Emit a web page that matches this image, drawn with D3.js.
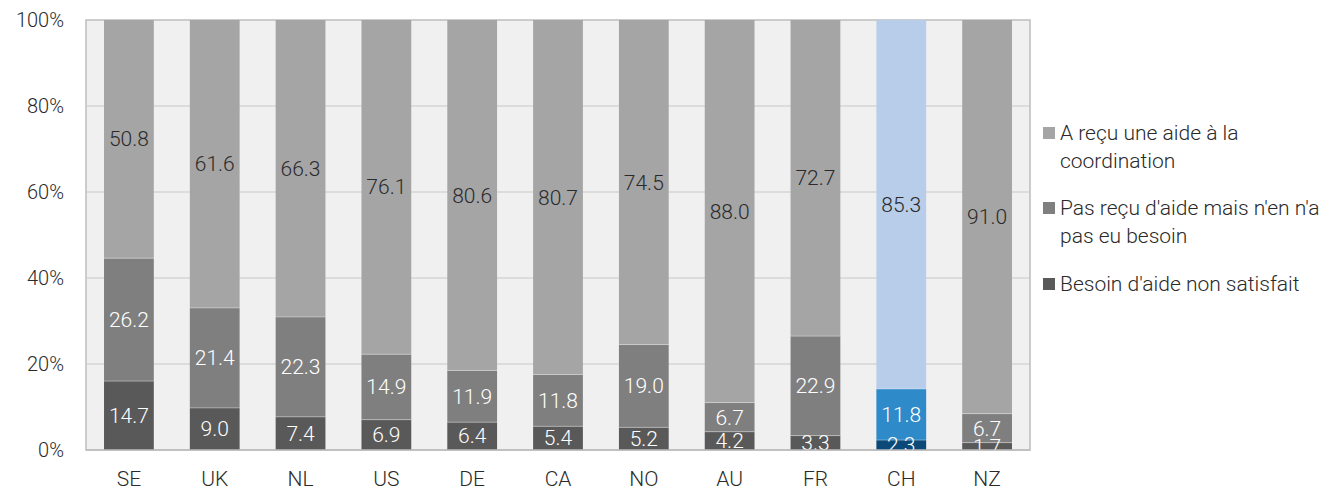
<!doctype html>
<html lang="fr">
<head>
<meta charset="utf-8">
<style>
  body { margin: 0; background: #fff; }
  text { font-family: Roboto, "Open Sans", sans-serif; font-weight: 300; }
</style>
</head>
<body>
<script src="https://d3js.org/d3.v7.min.js"></script>
<div id="chart"></div>
<script>
// data
var countries = ["SE", "UK", "NL", "US", "DE", "CA", "NO", "AU", "FR", "CH", "NZ"];
var besoinNonSatisfait = [14.7, 9.0, 7.4, 6.9, 6.4, 5.4, 5.2, 4.2, 3.3, 2.3, 1.7];
var pasBesoin = [26.2, 21.4, 22.3, 14.9, 11.9, 11.8, 19.0, 6.7, 22.9, 11.8, 6.7];
var aideRecue = [50.8, 61.6, 66.3, 76.1, 80.6, 80.7, 74.5, 88.0, 72.7, 85.3, 91.0];
var seriesNames = ["Besoin d'aide non satisfait", "Pas reçu d'aide mais n'en n'a pas eu besoin", "A reçu une aide à la coordination"];
var yTicks = [0, 0.2, 0.4, 0.6, 0.8, 1];
var highlight = "CH";

var greys = ["#595959", "#7f7f7f", "#a5a5a6"];
var blues = ["#0b4a78", "#2e8ac8", "#b7cde9"];
var labelColors = ["#fff", "#fff", "#2a2a2a"];

var width = 1331, height = 490;
var margin = {top: 20, right: 301, bottom: 40, left: 86};
var w = width - margin.left - margin.right,
    h = height - margin.top - margin.bottom;

var svg = d3.select("#chart").append("svg")
    .attr("width", width).attr("height", height);
var g = svg.append("g").attr("transform", "translate(" + margin.left + "," + margin.top + ")");

var rows = countries.map(function(c, i) {
  return {country: c, v0: besoinNonSatisfait[i], v1: pasBesoin[i], v2: aideRecue[i]};
});
var stack = d3.stack().keys(["v0", "v1", "v2"]).offset(d3.stackOffsetExpand);
var layers = stack(rows);

var x = d3.scaleBand().domain(countries).range([0, w]).paddingInner(0.42).paddingOuter(0.21);
var y = d3.scaleLinear().domain([0, 1]).range([h, 0]);

// plot background
g.append("rect").attr("width", w).attr("height", h)
  .attr("fill", "#f0f0f0").attr("stroke", "#bdbdbd").attr("stroke-width", 1.5);

// gridlines
g.append("g").selectAll("line").data(yTicks.slice(1, -1)).enter().append("line")
  .attr("x1", 0).attr("x2", w)
  .attr("y1", function(d) { return y(d); }).attr("y2", function(d) { return y(d); })
  .attr("stroke", "#c8c8c8").attr("stroke-width", 1);

// bars
layers.forEach(function(layer, k) {
  var lg = g.append("g");
  lg.selectAll("rect").data(layer).enter().append("rect")
    .attr("x", function(d) { return x(d.data.country); })
    .attr("y", function(d) { return y(d[1]); })
    .attr("width", x.bandwidth())
    .attr("height", function(d) { return y(d[0]) - y(d[1]); })
    .attr("fill", function(d) { return d.data.country == highlight ? blues[k] : greys[k]; });
  lg.selectAll("line").data(layer.filter(function() { return k > 0; })).enter().append("line")
    .attr("x1", function(d) { return x(d.data.country); })
    .attr("x2", function(d) { return x(d.data.country) + x.bandwidth(); })
    .attr("y1", function(d) { return y(d[0]); }).attr("y2", function(d) { return y(d[0]); })
    .attr("stroke", "#fff").attr("stroke-opacity", 0.35).attr("stroke-width", 1);
});

// value labels
layers.forEach(function(layer, k) {
  g.append("g").selectAll("text").data(layer).enter().append("text")
    .attr("x", function(d) { return x(d.data.country) + x.bandwidth() / 2; })
    .attr("y", function(d) { return (y(d[0]) + y(d[1])) / 2; })
    .attr("dy", "0.35em")
    .attr("text-anchor", "middle")
    .attr("font-size", 21)
    .attr("fill", labelColors[k])
    .text(function(d) { return d.data[layer.key].toFixed(1); });
});

// bottom axis line drawn over bars
g.append("line").attr("x1", 0).attr("x2", w).attr("y1", h).attr("y2", h)
  .attr("stroke", "#bdbdbd").attr("stroke-width", 1.5);
// white area below plot hides label overflow
svg.append("rect").attr("x", margin.left).attr("y", margin.top + h + 1)
  .attr("width", w).attr("height", 10).attr("fill", "#fff");

// axes
var yAxis = g.append("g")
  .call(d3.axisLeft(y).tickValues(yTicks).tickFormat(d3.format(".0%")).tickSize(0).tickPadding(22));
yAxis.select(".domain").remove();
yAxis.selectAll("text").attr("font-size", 20).attr("fill", "#2a2a2a").attr("font-family", "Roboto").attr("font-weight", 300);

var xAxis = g.append("g").attr("transform", "translate(0," + h + ")")
  .call(d3.axisBottom(x).tickSize(0).tickPadding(21));
xAxis.select(".domain").remove();
xAxis.selectAll("text").attr("font-size", 21).attr("fill", "#2a2a2a").attr("font-family", "Roboto").attr("font-weight", 300);

// legend (top to bottom: reverse order)
var legendItems = [
  {lines: ["A reçu une aide à la", "coordination"], color: greys[2], y: 133},
  {lines: ["Pas reçu d'aide mais n'en n'a", "pas eu besoin"], color: greys[1], y: 208},
  {lines: ["Besoin d'aide non satisfait"], color: greys[0], y: 284}
];
var legend = svg.append("g").attr("transform", "translate(1043,0)");
legendItems.forEach(function(it) {
  legend.append("rect").attr("x", 0).attr("y", it.y - 6).attr("width", 12).attr("height", 12).attr("fill", it.color);
  var t = legend.append("text").attr("x", 17).attr("y", it.y)
    .attr("font-size", 21).attr("fill", "#2a2a2a");
  it.lines.forEach(function(l, i) {
    t.append("tspan").attr("x", 17).attr("dy", i == 0 ? "0.35em" : 28).text(l);
  });
});
</script>
</body>
</html>
